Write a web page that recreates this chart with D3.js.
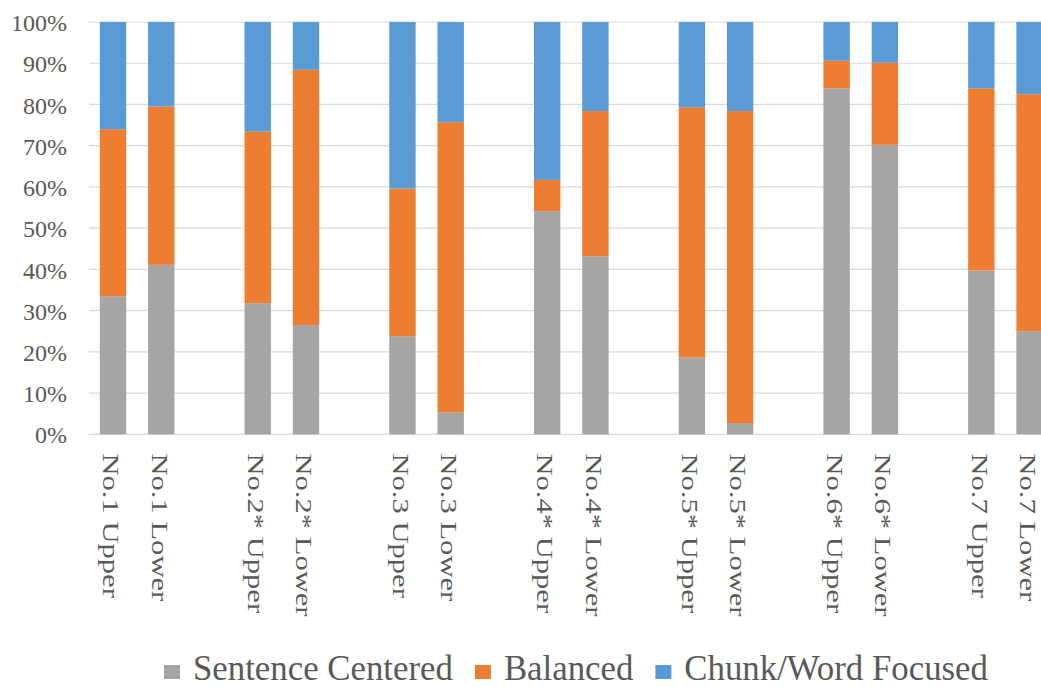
<!DOCTYPE html>
<html>
<head>
<meta charset="utf-8">
<script src="https://cdnjs.cloudflare.com/ajax/libs/d3/7.8.5/d3.min.js"></script>
<style>
  html, body { margin: 0; padding: 0; background: #fff; }
  svg { display: block; }
</style>
</head>
<body>
<svg id="chart" width="1041" height="687"></svg>
<script>
// Text groups, each measured for its upper and lower half
const groups = ["No.1", "No.2*", "No.3", "No.4*", "No.5*", "No.6*", "No.7"];
const levels = ["Upper", "Lower"];

// Shares (%) per bar, in order: group by group, Upper then Lower
const sentenceCentered = [33.5, 41.1, 31.8, 26.5, 23.8, 5.3, 54.1, 43.2, 18.6, 2.7, 83.9, 70.2, 39.7, 25.0];
const balanced         = [40.5, 38.4, 41.6, 61.9, 35.8, 70.4, 7.6, 35.2, 60.7, 75.7, 6.7, 19.9, 44.2, 57.5];
const chunkWord        = [26.0, 20.5, 26.6, 11.6, 40.4, 24.3, 38.3, 21.6, 20.7, 21.6, 9.4, 9.9, 16.1, 17.5];

const seriesNames = ["Sentence Centered", "Balanced", "Chunk/Word Focused"];
const seriesColors = ["#A5A5A5", "#ED7D31", "#5B9BD5"];
const yTicks = [0, 10, 20, 30, 40, 50, 60, 70, 80, 90, 100];

const FONT = '"Liberation Serif", "Times New Roman", Tinos, serif';
const TEXT_COLOR = "#595959";

// Bar records
const bars = [];
groups.forEach((g, gi) => {
  levels.forEach((lv, li) => {
    const i = gi * 2 + li;
    bars.push({
      key: `${g} ${lv}`,
      "Sentence Centered": sentenceCentered[i],
      "Balanced": balanced[i],
      "Chunk/Word Focused": chunkWord[i]
    });
  });
});

// Category slots: one empty slot between consecutive groups
const slots = [];
groups.forEach((g, gi) => {
  levels.forEach(lv => slots.push(`${g} ${lv}`));
  if (gi < groups.length - 1) slots.push(`__gap${gi}`);
});

const svg = d3.select("#chart");
const plotLeft = 88.9, plotRight = 1053.7, plotTop = 22, plotBottom = 434.3;

const x = d3.scaleBand()
  .domain(slots)
  .range([plotLeft, plotRight])
  .paddingInner(0.453)
  .paddingOuter(0.2265);

const y = d3.scaleLinear().domain([0, 100]).range([plotBottom, plotTop]);

// Gridlines
svg.append("g")
  .selectAll("line")
  .data(yTicks)
  .join("line")
  .attr("x1", plotLeft)
  .attr("x2", plotRight)
  .attr("y1", d => y(d))
  .attr("y2", d => y(d))
  .attr("stroke", "#D9D9D9")
  .attr("stroke-width", 1.2);

// Y axis labels
const yAxis = d3.axisLeft(y)
  .tickValues(yTicks)
  .tickFormat(d => d + "%")
  .tickSize(0)
  .tickPadding(0);
const yg = svg.append("g")
  .attr("transform", `translate(67,0)`)
  .call(yAxis);
yg.select(".domain").remove();
yg.selectAll("text")
  .style("font-family", FONT)
  .style("font-size", "24px")
  .style("fill", TEXT_COLOR)
  .attr("dy", "0.36em");

// Stacked bars
const stack = d3.stack().keys(seriesNames);
const stacked = stack(bars);

svg.append("g")
  .selectAll("g")
  .data(stacked)
  .join("g")
  .attr("fill", (d, i) => seriesColors[i])
  .selectAll("rect")
  .data(d => d)
  .join("rect")
  .attr("x", d => x(d.data.key))
  .attr("width", x.bandwidth())
  .attr("y", d => y(d[1]))
  .attr("height", d => y(d[0]) - y(d[1]));

// Category labels, rotated to read top to bottom
svg.append("g")
  .selectAll("text")
  .data(bars)
  .join("text")
  .attr("transform", d => `translate(${x(d.key) + x.bandwidth() / 2},453.5) rotate(90) scale(1.33,1)`)
  .attr("x", 0)
  .attr("y", 9.7)
  .style("font-family", FONT)
  .style("font-size", "23px")
  .style("fill", TEXT_COLOR)
  .text(d => d.key);

// Legend
const legend = svg.append("g");
let lx = 164;
seriesNames.forEach((name, i) => {
  legend.append("rect")
    .attr("x", lx)
    .attr("y", 665)
    .attr("width", 16)
    .attr("height", 14)
    .attr("fill", seriesColors[i]);
  const t = legend.append("text")
    .attr("x", lx + 29)
    .attr("y", 679.5)
    .style("font-family", FONT)
    .style("font-size", "34.8px")
    .style("fill", TEXT_COLOR)
    .text(name);
  lx = lx + 29 + t.node().getComputedTextLength() + 22;
});
</script>
</body>
</html>
